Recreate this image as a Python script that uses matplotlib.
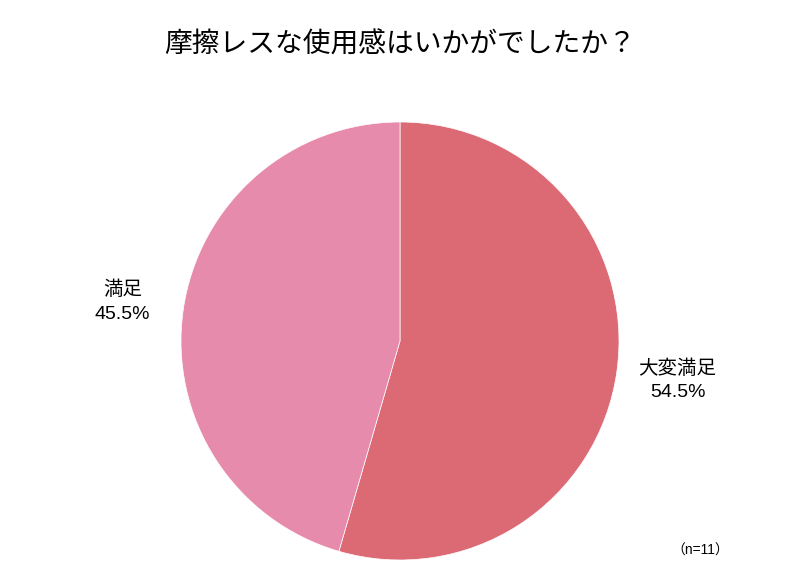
import matplotlib
matplotlib.use("Agg")
import matplotlib.pyplot as plt

plt.rcParams['font.family'] = ['Liberation Sans', 'Noto Sans CJK JP', 'DejaVu Sans']

title = "摩擦レスな使用感はいかがでしたか？"
categories = ["大変満足", "満足"]
values = [54.5, 45.5]
colors = ["#DC6A75", "#E68BAB"]
note = "（n=11）"

W, H = 800, 583
fig = plt.figure(figsize=(W/100, H/100), dpi=100)
cx, cy, r = 400, 341, 219
ax = fig.add_axes([(cx-r)/W, (H-cy-r)/H, 2*r/W, 2*r/H])
labels = [f"{c}\n{v}%" for c, v in zip(categories, values)]
wedges, texts = ax.pie(values, colors=colors, startangle=90, counterclock=False,
                       labels=labels, labeldistance=1.28,
                       textprops=dict(fontsize=14, ha='center', va='center', linespacing=1.5),
                       wedgeprops=dict(linewidth=0.5, edgecolor='white'))
ax.set_aspect('equal')
ax.set_xlim(-1, 1)
ax.set_ylim(-1, 1)

fig.text(0.5, 1 - 45/H, title, ha='center', va='center', fontsize=20)
fig.text(700/W, 1 - 551/H, note, ha='center', va='center', fontsize=10)
fig.savefig("out.png", dpi=100)
